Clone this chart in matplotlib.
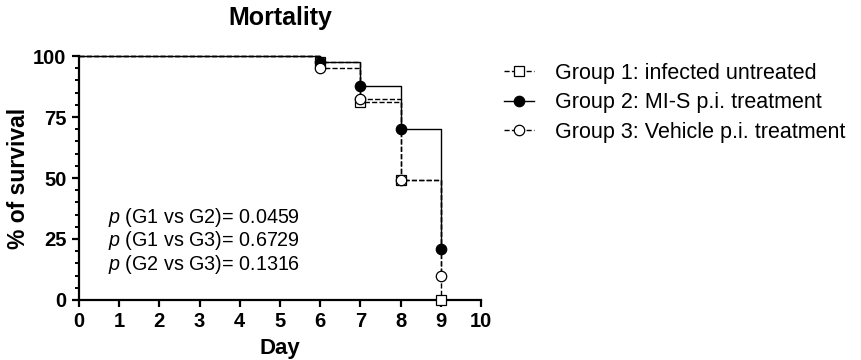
import matplotlib
matplotlib.use("Agg")
import matplotlib.pyplot as plt
from matplotlib.ticker import MultipleLocator

plt.rcParams['font.family'] = ['Liberation Sans', 'DejaVu Sans']
plt.rcParams['mathtext.fontset'] = 'custom'
plt.rcParams['mathtext.it'] = 'Liberation Sans:italic'
plt.rcParams['mathtext.rm'] = 'Liberation Sans'

# survival data
days = [0, 6, 7, 8, 9]
g1 = [100, 97.5, 81, 49, 0]
g2 = [100, 97.5, 87.8, 70, 20.8]
g3 = [100, 95, 82.5, 49, 10]
labels = ['Group 1: infected untreated',
          'Group 2: MI-S p.i. treatment',
          'Group 3: Vehicle p.i. treatment']
pvals = ['$\\it{p}$ (G1 vs G2)= 0.0459',
         '$\\it{p}$ (G1 vs G3)= 0.6729',
         '$\\it{p}$ (G2 vs G3)= 0.1316']

fig = plt.figure(figsize=(8.62, 3.6), dpi=100)
ax = fig.add_axes([0.0916, 0.1667, 0.4664, 0.6777])

styles = [
    dict(data=g1, ls='--', marker='s', mfc='white'),
    dict(data=g2, ls='-', marker='o', mfc='black'),
    dict(data=g3, ls='--', marker='o', mfc='white'),
]
handles = []
for st in styles:
    ax.step(days, st['data'], where='post', color='black', ls=st['ls'], lw=1.0,
            clip_on=False)
    ax.plot(days[1:], st['data'][1:], ls='none', marker=st['marker'],
            mfc=st['mfc'], mec='black', ms=7.5, mew=0.9, clip_on=False, zorder=5)
    h, = ax.plot([], [], color='black', ls=st['ls'], lw=1.0, marker=st['marker'],
                 mfc=st['mfc'], mec='black', ms=7.5, mew=0.9)
    handles.append(h)

ax.set_xlim(0, 10)
ax.set_ylim(0, 100)
ax.xaxis.set_major_locator(MultipleLocator(1))
ax.yaxis.set_major_locator(MultipleLocator(25))
ax.yaxis.set_minor_locator(MultipleLocator(5))
for s in ['top', 'right']:
    ax.spines[s].set_visible(False)
for s in ['left', 'bottom']:
    ax.spines[s].set_linewidth(1.6)
ax.tick_params(which='major', length=5, width=1.6, labelsize=14.5, pad=4)
ax.tick_params(which='minor', length=3, width=1.4)
for t in ax.get_xticklabels() + ax.get_yticklabels():
    t.set_fontweight('bold')

ax.set_xlabel('Day', fontsize=16, fontweight='bold', labelpad=5)
ax.set_ylabel('% of survival', fontsize=16.5, fontweight='bold', labelpad=2)
ax.set_title('Mortality', fontsize=18, fontweight='bold', pad=22)

for i, p in enumerate(pvals):
    ax.text(0.72, 34 - i * 9.8, p, fontsize=14.2, va='center')

fig.legend(handles, labels, loc='upper left', bbox_to_anchor=(0.562, 0.88),
           frameon=False, fontsize=15.5, handlelength=1.4, handletextpad=1.0,
           labelspacing=0.4)

fig.savefig('out.png', dpi=100)
